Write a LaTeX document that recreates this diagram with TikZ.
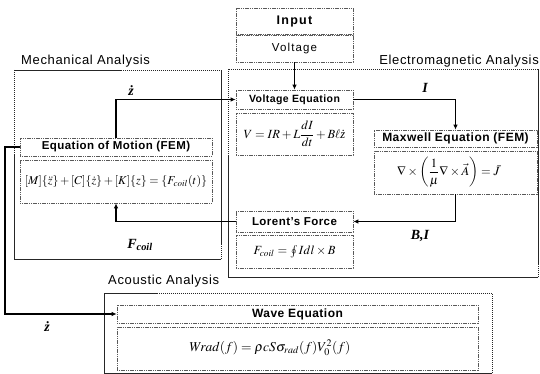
\documentclass[tikz,border=0pt]{standalone}
\usepackage{amsmath}
\usepackage{mathptmx}
\usepackage[no-math]{fontspec}
\setmainfont{Liberation Sans}
\newfontfamily\tms{Liberation Serif}
\usetikzlibrary{arrows.meta}
\begin{document}
\begin{tikzpicture}[x=1pt,y=-1pt,
  inbox/.style={draw=black!65, line width=0.6pt, dash pattern=on 1.2pt off 0.6pt, inner sep=0pt},
  outbox/.style={draw=black!85, line width=0.8pt, dash pattern=on 1.5pt off 0.5pt},
  ttl/.style={font=\bfseries\fontsize{#1}{14}\selectfont\addfontfeature{LetterSpace=4}},
  sec/.style={font=\fontsize{13}{15}\selectfont\addfontfeature{LetterSpace=5}, inner sep=0pt},
  frm/.style={font=\fontsize{#1}{14}\selectfont, inner sep=0pt},
  lbl/.style={font=\tms\bfseries\itshape\fontsize{14}{16}\selectfont, inner sep=0pt},
  conn/.style={line width=1.8pt, -{Latex[length=5pt,width=4.5pt]}}]
\useasboundingbox (0,0) rectangle (540,374);
% outer analysis boxes
\draw[outbox] (14,70) rectangle (221,259);
\draw[outbox] (228,69) rectangle (538,277);
\draw[outbox] (104,293) rectangle (492,373);
\node[sec, anchor=west] (mlab) at (21,61) {Mechanical Analysis};
\node[sec, anchor=east] (elab) at (539,61) {Electromagnetic Analysis};
\node[sec, anchor=west] (alab) at (108,281) {Acoustic Analysis};
% input
\node[inbox, ttl=12.5, minimum width=117pt, minimum height=26pt] (inp) at (294.5,21) {\addfontfeature{LetterSpace=10}Input};
\node[inbox, font=\fontsize{11.5}{13}\selectfont\addfontfeature{LetterSpace=10}, minimum width=117pt, minimum height=27pt] (volt) at (294.5,48.5) {Voltage};
% mechanical
\node[inbox, ttl=11.5, minimum width=192pt, minimum height=18pt] (eom) at (116,147) {Equation of Motion (FEM)};
\node[inbox, frm=12, minimum width=192pt, minimum height=43pt] (eomf) at (116,181.5) {$[M]\{\ddot z\}+[C]\{\dot z\}+[K]\{z\}=\{F_{coil}(t)\}$};
% electromagnetic
\node[inbox, ttl=10.5, minimum width=117pt, minimum height=19pt] (veq) at (294.5,99.5) {Voltage Equation};
\node[inbox, frm=12.5, minimum width=117pt, minimum height=42pt] (veqf) at (294.5,134) {$V=IR+L\dfrac{dI}{dt}+B\ell\text{\tms\itshape ż}$};
\node[inbox, frm=12.5, minimum width=163pt, minimum height=17pt, ttl=12] (max) at (455.5,138.5) {Maxwell Equation (FEM)};
\node[inbox, frm=12.5, minimum width=163pt, minimum height=43pt] (maxf) at (455.5,172.5) {$\nabla\times\left(\dfrac{1}{\mu}\nabla\times\vec{A}\right)=\bar{J}$\hspace*{14pt}};
\node[inbox, ttl=11.5, minimum width=117pt, minimum height=21pt] (lor) at (294.5,221.5) {Lorent's Force};
\node[inbox, frm=12.5, minimum width=117pt, minimum height=33pt] (lorf) at (294.5,251.5) {$F_{coil}=\oint I dl\times B$};
% acoustic
\node[inbox, ttl=12, minimum width=361pt, minimum height=18pt] (wave) at (297.5,314) {Wave Equation};
\node[inbox, minimum width=361pt, minimum height=43pt] (wavef) at (297.5,348.5) {};
\node[frm=13.5] (wavet) at (270,348) {$W\!rad(f)=\rho c S\sigma_{rad}(f)V_0^2(f)$};
% connectors
\coordinate (lft) at (5,0);
\draw[conn] (volt.south) -- (veq.north);
\draw[conn] (eom.north) |- (veq.west);
\draw[conn] (veq.east) -| (max.north);
\draw[conn] (maxf.south) |- (lor.east);
\draw[conn] (lor.west) -| (eomf.south);
\draw[conn] (eom.west) -- (eom.west -| lft) |- (wave.west);
% labels
\node[lbl] (zd1) at (131,91) {ż};
\node[lbl] (ilab) at (425,88) {I};
\node[lbl] (bilab) at (420,236) {B,I};
\node[lbl] (fclab) at (140,245) {F\textsubscript{coil}};
\node[lbl] (zd2) at (47,327) {ż};
\end{tikzpicture}
\end{document}
